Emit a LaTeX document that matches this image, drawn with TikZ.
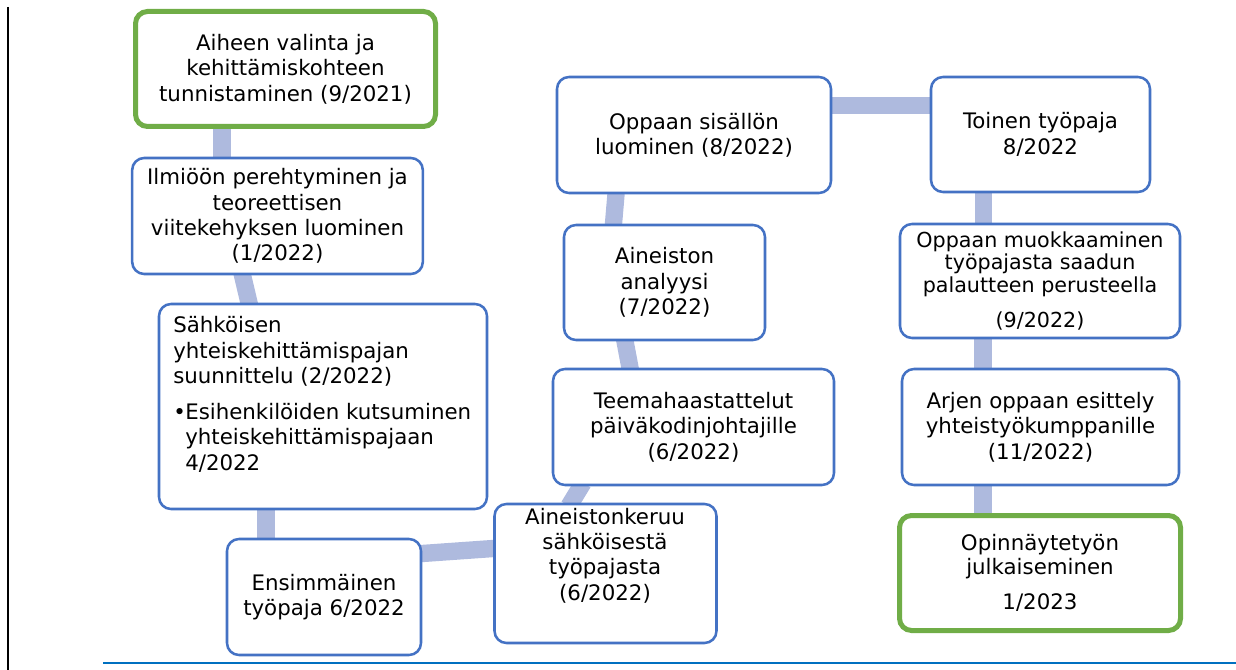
\documentclass[tikz,border=0pt]{standalone}
\usepackage{fontspec}
\setmainfont{DejaVu Sans}
\usetikzlibrary{calc,backgrounds}
\definecolor{bluebox}{RGB}{68,114,196}
\definecolor{greenbox}{RGB}{112,173,71}
\definecolor{conncol}{RGB}{174,186,222}
\definecolor{rulecol}{RGB}{0,112,192}
\begin{document}
\begin{tikzpicture}[x=0.75pt,y=-0.75pt,
  box/.style={draw=bluebox,line width=1.9pt,rounded corners=9pt,fill=white,
    inner sep=0pt,align=center,font=\fontsize{16}{19}\selectfont},
  gbox/.style={box,draw=greenbox,line width=3.75pt},
  conn/.style={draw=conncol,line width=13pt,shorten <=-3pt,shorten >=-3pt},
  txt/.style={inner sep=0pt,font=\fontsize{16}{19}\selectfont}]
\useasboundingbox (0,0) rectangle (1236,670);
% frame lines
\coordinate (lt) at (8,7);
\coordinate (lb) at (8,670);
\draw[black,line width=1.9pt] (lt) -- (lb);
\coordinate (rl) at (103,663);
\coordinate (rr) at (1236,663);
\draw[rulecol,line width=1.9pt] (rl) -- (rr);
% boxes
\node[gbox,minimum width=225pt,minimum height=86.25pt] (A) at (285.5,69)
  {Aiheen valinta ja\\kehittämiskohteen\\tunnistaminen (9/2021)};
\node[box,minimum width=218pt,minimum height=87pt] (B) at (277.5,216)
  {Ilmiöön perehtyminen ja\\teoreettisen\\viitekehyksen luominen\\(1/2022)};
\node[box,minimum width=246pt,minimum height=153.75pt] (C) at (323,406.5) {};
\node[txt,align=left,anchor=base west] (Ct) at (173,470)
  {Sähköisen\\yhteiskehittämispajan\\suunnittelu (2/2022)\\[8pt]%
   \makebox[9pt][l]{•}Esihenkilöiden kutsuminen\\\hspace*{9pt}yhteiskehittämispajaan\\\hspace*{9pt}4/2022};
\node[box,minimum width=145.5pt,minimum height=87pt] (D) at (324,597)
  {Ensimmäinen\\työpaja 6/2022};
\node[box,minimum width=166.5pt,minimum height=104.25pt] (E) at (605.5,573.5) {};
\node[txt,align=center,anchor=base] (Et) at (605,600)
  {Aineistonkeruu\\sähköisestä\\työpajasta\\(6/2022)};
\node[box,minimum width=210.75pt,minimum height=87pt] (F) at (693.5,427)
  {Teemahaastattelut\\päiväkodinjohtajille\\(6/2022)};
\node[box,minimum width=150.75pt,minimum height=86.25pt] (G) at (664.5,282.5)
  {Aineiston\\analyysi\\(7/2022)};
\node[box,minimum width=205.5pt,minimum height=87pt] (H) at (694,135)
  {Oppaan sisällön\\luominen (8/2022)};
\node[box,minimum width=164.25pt,minimum height=86.25pt] (I) at (1040.5,134.5)
  {Toinen työpaja\\8/2022};
\node[box,minimum width=210pt,minimum height=85.5pt,font=\fontsize{15.5}{16.9}\selectfont] (J) at (1040,281)
  {Oppaan muokkaaminen\\työpajasta saadun\\palautteen perusteella\\[10pt](9/2022)};
\node[box,minimum width=207.75pt,minimum height=87pt] (K) at (1040.5,427)
  {Arjen oppaan esittely\\yhteistyökumppanille\\(11/2022)};
\node[gbox,minimum width=210.75pt,minimum height=86.25pt,font=\fontsize{16}{18}\selectfont] (L) at (1040,573)
  {Opinnäytetyön\\julkaiseminen\\[8.5pt]1/2023};
% connectors
\begin{scope}[on background layer]
\draw[conn] ($(A.south)+(-63.5,0)$) -- ($(B.north)+(-55.5,0)$);
\draw[conn] ($(B.south)+(-35,0)$) -- ($(C.north)+(-74,0)$);
\draw[conn] ($(C.south)+(-57,0)$) -- ($(D.north)+(-58,0)$);
\draw[conn] ($(D.east)+(0,-43.5)$) -- ($(E.west)+(0,-25)$);
\draw[conn] ($(E.north)+(-34.5,0)$) -- ($(F.south)+(-112.5,0)$);
\draw[conn] ($(F.north)+(-63.5,0)$) -- ($(G.south)+(-39.5,0)$);
\draw[conn] ($(G.north)+(-51,0)$) -- ($(H.south)+(-78,0)$);
\draw[conn] ($(H.east)+(0,-29.5)$) -- ($(I.west)+(0,-29)$);
\draw[conn] ($(I.south)+(-57,0)$) -- ($(J.north)+(-56.5,0)$);
\draw[conn] ($(J.south)+(-57,0)$) -- ($(K.north)+(-57.5,0)$);
\draw[conn] ($(K.south)+(-57.5,0)$) -- ($(L.north)+(-57,0)$);
\end{scope}
\end{tikzpicture}
\end{document}
